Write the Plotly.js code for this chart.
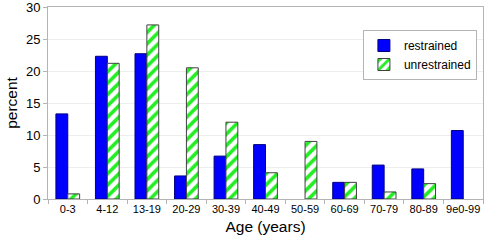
<!DOCTYPE html>
<html>
<head>
<meta charset="utf-8">
<script src="https://cdn.plot.ly/plotly-3.0.1.min.js"></script>
<style>html,body{margin:0;padding:0;background:#fff;}#chart{width:484px;height:242px;}</style>
</head>
<body>
<div id="chart"></div>
<script>
var categories = ["0-3","4-12","13-19","20-29","30-39","40-49","50-59","60-69","70-79","80-89","9e0-99"];
var restrained = [13.3, 22.3, 22.7, 3.6, 6.7, 8.5, null, 2.6, 5.3, 4.7, 10.7];
var unrestrained = [0.8, 21.2, 27.2, 20.5, 12.0, 4.1, 9.0, 2.6, 1.1, 2.4, null];
var yTicks = [0, 5, 10, 15, 20, 25, 30];

var font = "Liberation Sans, Arial, sans-serif";
var data = [
  {type: "bar", name: "restrained", x: categories, y: restrained,
   marker: {color: "#0000ff", line: {color: "#000080", width: 1}}},
  {type: "bar", name: "unrestrained", x: categories, y: unrestrained,
   marker: {color: "#ffffff", line: {color: "#404040", width: 1},
            pattern: {shape: "/", fgcolor: "#22ee22", bgcolor: "#ffffff", size: 8, solidity: 0.45}}}
];
var layout = {
  width: 484, height: 242,
  margin: {l: 48, r: 1, t: 7, b: 43},
  paper_bgcolor: "#ffffff", plot_bgcolor: "#ffffff",
  barmode: "group", bargap: 0.4, bargroupgap: 0,
  font: {family: font, color: "#000000"},
  showlegend: true,
  legend: {x: 0.986, y: 0.75, xanchor: "right", yanchor: "middle",
           bordercolor: "#b4b4b4", borderwidth: 1, bgcolor: "#ffffff",
           font: {size: 12, family: font}, itemwidth: 30, tracegroupgap: 0},
  xaxis: {type: "category", tickfont: {size: 11}, tickangle: 0, showgrid: false,
          showline: true, mirror: true, linecolor: "#b4b4b4", linewidth: 1,
          ticks: "outside", tickson: "boundaries", ticklen: 4, tickcolor: "#b4b4b4",
          title: {text: "Age (years)", font: {size: 15.5}, standoff: 6}},
  yaxis: {range: [0, 30], tickvals: yTicks, tickfont: {size: 13}, ticklabeloverflow: "allow",
          showgrid: true, gridcolor: "#eeeeee", zeroline: false,
          showline: true, mirror: true, linecolor: "#b4b4b4", linewidth: 1,
          ticks: "outside", ticklen: 4, tickcolor: "#b4b4b4",
          title: {text: "percent", font: {size: 15.5}, standoff: 4}}
};
Plotly.newPlot("chart", data, layout, {displayModeBar: false, staticPlot: true});
</script>
</body>
</html>
